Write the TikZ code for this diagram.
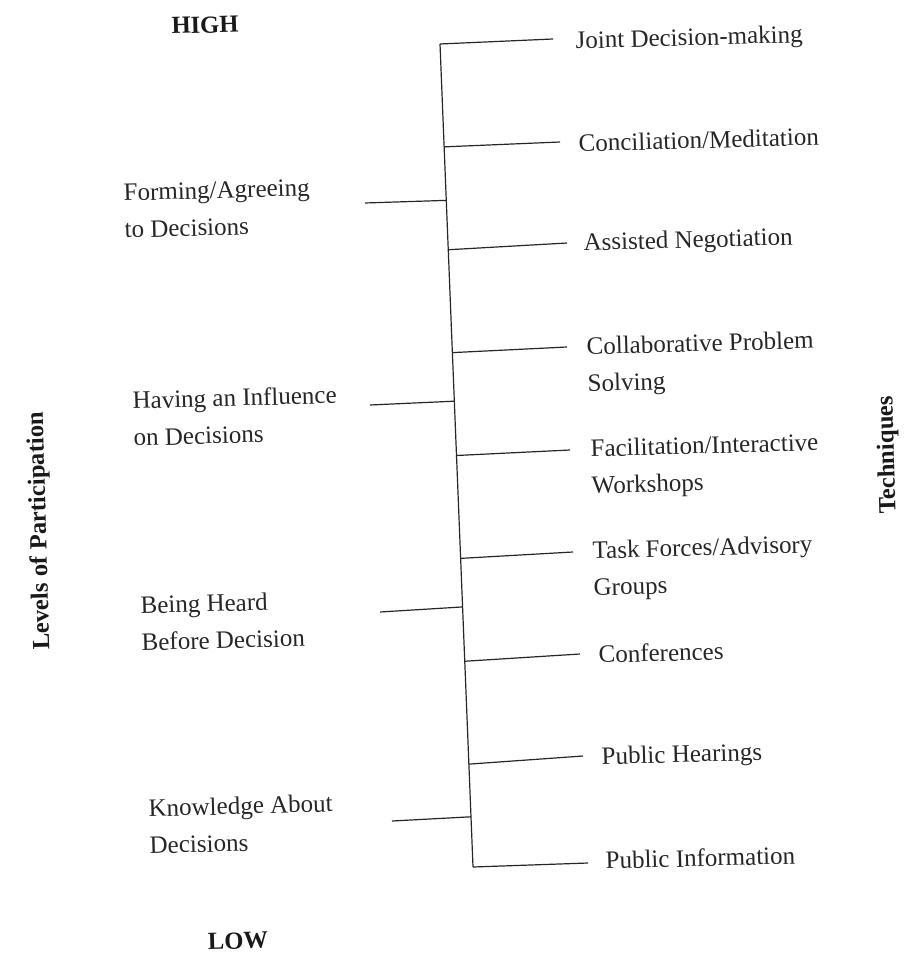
\documentclass[tikz,border=0pt]{standalone}
\usepackage{fontspec}
\setmainfont{Liberation Serif}
\usetikzlibrary{calc}
\begin{document}
\begin{tikzpicture}[x=0.5pt,y=-0.5pt,
  every node/.style={inner sep=0pt},
  branch/.style={line width=0.6pt,black!85},
  label/.style={anchor=north west,align=left,rotate=1.6,
    font=\fontsize{12.5}{18.5}\selectfont,text=black!85},
  heading/.style={font=\fontsize{12.3}{14}\selectfont\bfseries,rotate=1.6,text=black!90},
  axis/.style={font=\fontsize{12.3}{14}\selectfont\bfseries,rotate=91.6,text=black!90}]
\useasboundingbox (0,0) rectangle (914,956);

% main spine
\coordinate (sT) at (440,44);
\coordinate (sB) at (473,867);
\draw[branch] (sT) -- (sB);

% technique branches (right side), evenly spaced along the spine
\foreach \k/\ex/\ey in {0/553/39,1/560/142,2/567/243,3/567/347,4/570/450,
                        5/573/552,6/580/654,7/583/756,8/588/863}{
  \coordinate (r\k) at ($(sT)!\k/8!(sB)$);
  \coordinate (re\k) at (\ex,\ey);
  \draw[branch] (r\k) -- (re\k);
}

% participation-level branches (left side)
\foreach \n/\t/\ex/\ey in {1/0.19/365/203,2/0.434/370/405,3/0.684/380/612,4/0.939/392/821}{
  \coordinate (l\n) at ($(sT)!\t!(sB)$);
  \coordinate (le\n) at (\ex,\ey);
  \draw[branch] (le\n) -- (l\n);
}

% techniques
\node[label] (t0) at (575,31)  {Joint Decision-making};
\node[label] (t1) at (578,134) {Conciliation/Meditation};
\node[label] (t2) at (583,233) {Assisted Negotiation};
\node[label] (t3) at (586,337) {Collaborative Problem\\Solving};
\node[label] (t4) at (590,439) {Facilitation/Interactive\\Workshops};
\node[label] (t5) at (592,541) {Task Forces/Advisory\\Groups};
\node[label] (t6) at (598,645) {Conferences};
\node[label] (t7) at (601,747) {Public Hearings};
\node[label] (t8) at (605,851) {Public Information};

% levels of participation
\node[label] (p1) at (123,184) {Forming/Agreeing\\to Decisions};
\node[label] (p2) at (132,391) {Having an Influence\\on Decisions};
\node[label] (p3) at (140,596) {Being Heard\\Before Decision};
\node[label] (p4) at (148,799) {Knowledge About\\Decisions};

% scale ends
\node[heading] (high) at (205,25)  {HIGH};
\node[heading] (low)  at (238,941) {LOW};

% axis titles
\node[axis] (lev) at (40,531)  {Levels of Participation};
\node[axis] (tec) at (888,455) {Techniques};
\end{tikzpicture}
\end{document}
